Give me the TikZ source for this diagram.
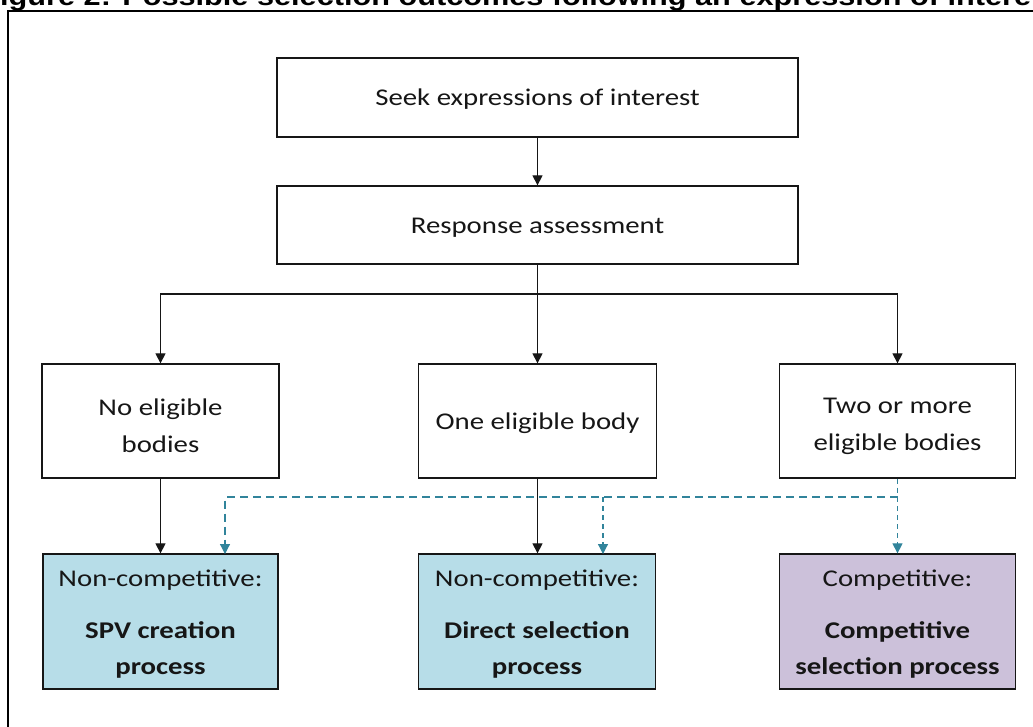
\documentclass[tikz,border=0pt]{standalone}
\usepackage{fontspec}
\setmainfont{Carlito}[FakeStretch=1.2]
\newfontfamily\titlefont{Liberation Sans}[FakeStretch=1.18]
\usetikzlibrary{arrows.meta}
\definecolor{boxblue}{HTML}{B7DDE8}
\definecolor{boxpurple}{HTML}{CCC1DA}
\definecolor{dashteal}{HTML}{31849B}
\definecolor{inkdark}{HTML}{161616}
\newcommand\tstrut[1]{\rule{0pt}{#1}}
\begin{document}
\begin{tikzpicture}[x=1pt,y=-1pt,
  box/.style={draw=inkdark, line width=1.3pt, rectangle, align=center, inner sep=0pt,
    text=inkdark, font=\fontsize{24}{36.5}\selectfont},
  flow/.style={inkdark, line width=1.2pt, -{Triangle[width=10pt,length=10pt]}},
  altline/.style={dashteal, line width=1.2pt, dash pattern=on 8pt off 5pt},
  alt/.style={altline, -{Triangle[width=10pt,length=10pt]}}]
\useasboundingbox (0,0) rectangle (1033,726);
\node[anchor=base west, inner sep=0pt, font=\titlefont\bfseries\fontsize{26}{32}\selectfont] (title) at (0,5) {igure 2: Possible selection outcomes following an expression of intere};
\draw[line width=2.2pt] (8,11) rectangle (1045,745);

\node[box, minimum width=521pt, minimum height=79pt] (seek) at (537.5,97.5) {\tstrut{20pt}Seek expressions of interest};
\node[box, minimum width=521pt, minimum height=78pt] (resp) at (537.5,225) {\tstrut{20pt}Response assessment};
\node[box, minimum width=237pt, minimum height=114pt] (none) at (160.5,421) {\tstrut{26pt}No eligible\\bodies};
\node[box, minimum width=238pt, minimum height=114pt] (one) at (537.5,421) {\tstrut{22pt}One eligible body};
\node[box, minimum width=236pt, minimum height=114pt] (two) at (897.5,421) {\tstrut{26pt}Two or more\\eligible bodies};
\node[box, fill=boxblue, minimum width=235pt, minimum height=135pt] (spv) at (160.5,621.5) {\tstrut{22pt}Non-competitive:\\[15pt]\textbf{SPV creation}\\\textbf{process}};
\node[box, fill=boxblue, minimum width=237pt, minimum height=135pt] (direct) at (537,621.5) {\tstrut{22pt}Non-competitive:\\[15pt]\textbf{Direct selection}\\\textbf{process}};
\node[box, fill=boxpurple, minimum width=236pt, minimum height=135pt] (comp) at (897.5,621.5) {\tstrut{22pt}Competitive:\\[15pt]\textbf{Competitive}\\\textbf{selection process}};

\coordinate (split) at (537.5,294);
\draw[flow] (seek) -- (resp);
\draw[flow] (resp.south) -- (one.north);
\draw[flow] (split) -| (none.north);
\draw[flow] (split) -| (two.north);
\draw[flow] (none) -- (spv);
\draw[flow] (one.south) -- (one.south |- direct.north);

\coordinate (dj) at (897.5,497);
\coordinate (spvin) at (225,554);
\coordinate (dirin) at (603,554);
\draw[altline, dash pattern=on 5pt off 4pt] (two.south) -- (dj);
\draw[alt] (dj) -| (spvin);
\draw[alt, dash pattern=on 5pt off 4pt] (dirin |- dj) -- (dirin);
\draw[alt, dash pattern=on 5pt off 4pt] (dj) -- (comp.north);
\end{tikzpicture}
\end{document}
